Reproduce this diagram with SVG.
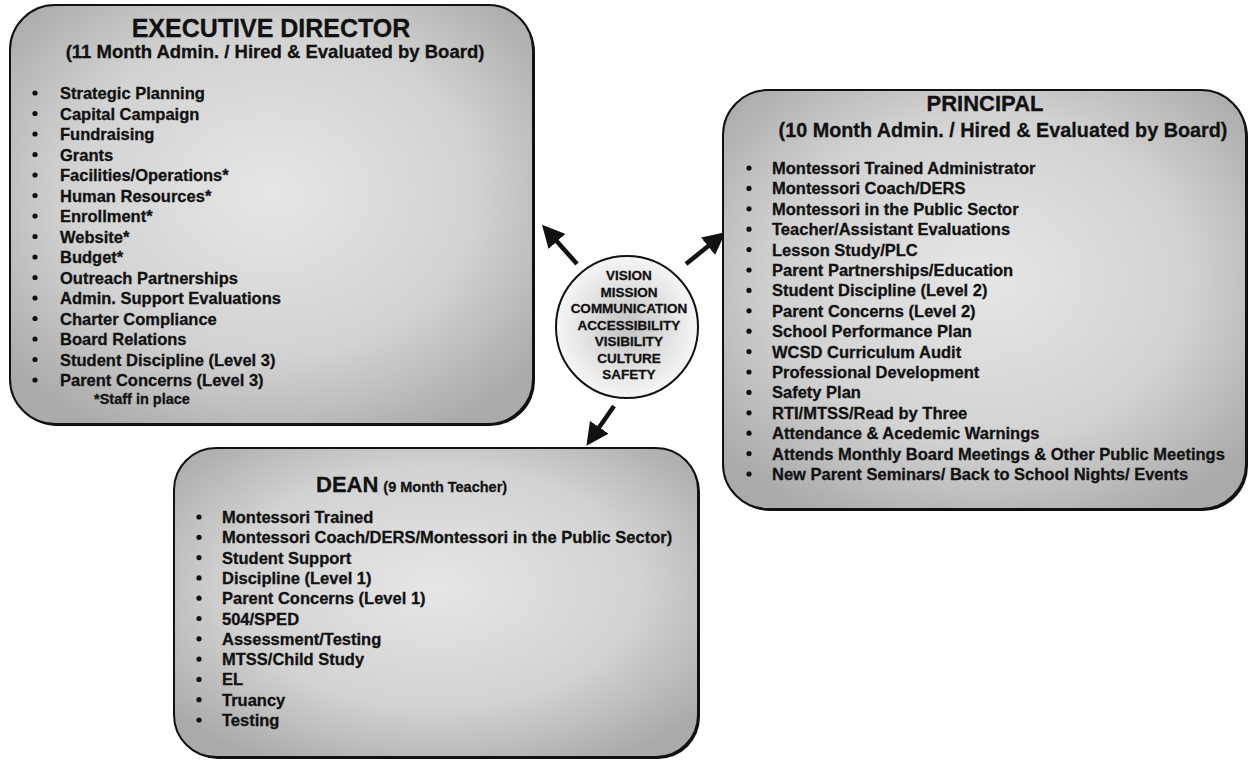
<svg xmlns="http://www.w3.org/2000/svg" width="1250" height="761" viewBox="0 0 1250 761">
<defs>
<radialGradient id="boxg" cx="50%" cy="45%" r="65%">
<stop offset="0%" stop-color="#e6e6e6"/>
<stop offset="60%" stop-color="#d2d2d2"/>
<stop offset="100%" stop-color="#aaaaaa"/>
</radialGradient>
<radialGradient id="circg" cx="50%" cy="50%" r="50%">
<stop offset="0%" stop-color="#c2c2c2"/>
<stop offset="100%" stop-color="#f6f6f6"/>
</radialGradient>
<marker id="ah" markerWidth="5" markerHeight="5" refX="4" refY="2.5" orient="auto" markerUnits="strokeWidth">
<path d="M0,0 L5,2.5 L0,5 Z" fill="#111"/>
</marker>
</defs>
<style>
.box{fill:url(#boxg);stroke:#111;stroke-width:2}
.sh{fill:#111}
text{font-family:"Liberation Sans",Arial,sans-serif;font-weight:bold;fill:#111;stroke:#111;stroke-width:0.3}
.t1{font-size:25px}
.t2{font-size:22px}
.sub{font-size:18.5px}
.it{font-size:16.5px}
.small{font-size:14.5px}
.ct{font-size:13.5px}
.dot{fill:#111}
.conn{stroke:#111;stroke-width:4.5;fill:none;marker-end:url(#ah)}
</style>
<rect width="1250" height="761" fill="#fff"/>

<g id="connectors">
<line class="conn" x1="577" y1="264" x2="545" y2="228"/>
<line class="conn" x1="686" y1="264" x2="722" y2="235"/>
<line class="conn" x1="614" y1="406" x2="589" y2="442"/>
</g>

<g id="executive-director">
<rect class="sh" x="12" y="7" width="523" height="419" rx="45"/>
<rect class="box" x="10" y="5" width="523" height="419" rx="45"/>
<text class="t1" x="271" y="37" text-anchor="middle">EXECUTIVE DIRECTOR</text>
<text class="sub" x="275" y="58" text-anchor="middle">(11 Month Admin. / Hired &amp; Evaluated by Board)</text>
<g class="dot">
<circle cx="35" cy="93" r="2.6"/><circle cx="35" cy="113.5" r="2.6"/><circle cx="35" cy="134" r="2.6"/><circle cx="35" cy="154.5" r="2.6"/><circle cx="35" cy="175" r="2.6"/><circle cx="35" cy="195.5" r="2.6"/><circle cx="35" cy="216" r="2.6"/><circle cx="35" cy="236.5" r="2.6"/><circle cx="35" cy="257" r="2.6"/><circle cx="35" cy="277.5" r="2.6"/><circle cx="35" cy="298" r="2.6"/><circle cx="35" cy="318.5" r="2.6"/><circle cx="35" cy="339" r="2.6"/><circle cx="35" cy="359.5" r="2.6"/><circle cx="35" cy="380" r="2.6"/>
</g>
<text class="it" x="60" y="99">Strategic Planning</text>
<text class="it" x="60" y="119.5">Capital Campaign</text>
<text class="it" x="60" y="140">Fundraising</text>
<text class="it" x="60" y="160.5">Grants</text>
<text class="it" x="60" y="181">Facilities/Operations*</text>
<text class="it" x="60" y="201.5">Human Resources*</text>
<text class="it" x="60" y="222">Enrollment*</text>
<text class="it" x="60" y="242.5">Website*</text>
<text class="it" x="60" y="263">Budget*</text>
<text class="it" x="60" y="283.5">Outreach Partnerships</text>
<text class="it" x="60" y="304">Admin. Support Evaluations</text>
<text class="it" x="60" y="324.5">Charter Compliance</text>
<text class="it" x="60" y="345">Board Relations</text>
<text class="it" x="60" y="365.5">Student Discipline (Level 3)</text>
<text class="it" x="60" y="386">Parent Concerns (Level 3)</text>
<text class="small" x="94" y="404">*Staff in place</text>
</g>

<g id="principal">
<rect class="sh" x="725" y="92" width="523" height="419" rx="45"/>
<rect class="box" x="723" y="90" width="523" height="419" rx="45"/>
<text class="t2" x="985" y="111" text-anchor="middle">PRINCIPAL</text>
<text class="sub" x="1003" y="137" text-anchor="middle" style="font-size:19.8px">(10 Month Admin. / Hired &amp; Evaluated by Board)</text>
<g class="dot">
<circle cx="749" cy="168" r="2.6"/><circle cx="749" cy="188.4" r="2.6"/><circle cx="749" cy="208.8" r="2.6"/><circle cx="749" cy="229.2" r="2.6"/><circle cx="749" cy="249.6" r="2.6"/><circle cx="749" cy="270" r="2.6"/><circle cx="749" cy="290.4" r="2.6"/><circle cx="749" cy="310.8" r="2.6"/><circle cx="749" cy="331.2" r="2.6"/><circle cx="749" cy="351.6" r="2.6"/><circle cx="749" cy="372" r="2.6"/><circle cx="749" cy="392.4" r="2.6"/><circle cx="749" cy="412.8" r="2.6"/><circle cx="749" cy="433.2" r="2.6"/><circle cx="749" cy="453.6" r="2.6"/><circle cx="749" cy="474" r="2.6"/>
</g>
<text class="it" x="772" y="174">Montessori Trained Administrator</text>
<text class="it" x="772" y="194.4">Montessori Coach/DERS</text>
<text class="it" x="772" y="214.8">Montessori in the Public Sector</text>
<text class="it" x="772" y="235.2">Teacher/Assistant Evaluations</text>
<text class="it" x="772" y="255.6">Lesson Study/PLC</text>
<text class="it" x="772" y="276">Parent Partnerships/Education</text>
<text class="it" x="772" y="296.4">Student Discipline (Level 2)</text>
<text class="it" x="772" y="316.8">Parent Concerns (Level 2)</text>
<text class="it" x="772" y="337.2">School Performance Plan</text>
<text class="it" x="772" y="357.6">WCSD Curriculum Audit</text>
<text class="it" x="772" y="378">Professional Development</text>
<text class="it" x="772" y="398.4">Safety Plan</text>
<text class="it" x="772" y="418.8">RTI/MTSS/Read by Three</text>
<text class="it" x="772" y="439.2">Attendance &amp; Acedemic Warnings</text>
<text class="it" x="772" y="459.6">Attends Monthly Board Meetings &amp; Other Public Meetings</text>
<text class="it" x="772" y="480">New Parent Seminars/ Back to School Nights/ Events</text>
</g>

<g id="dean">
<rect class="sh" x="176" y="450" width="524" height="309" rx="42"/>
<rect class="box" x="174" y="448" width="524" height="309" rx="42"/>
<text x="316" y="492"><tspan style="font-size:22px">DEAN</tspan><tspan style="font-size:14.5px" dx="5">(9 Month Teacher)</tspan></text>
<g class="dot">
<circle cx="199" cy="517" r="2.6"/><circle cx="199" cy="537.3" r="2.6"/><circle cx="199" cy="557.6" r="2.6"/><circle cx="199" cy="577.9" r="2.6"/><circle cx="199" cy="598.2" r="2.6"/><circle cx="199" cy="618.5" r="2.6"/><circle cx="199" cy="638.8" r="2.6"/><circle cx="199" cy="659.1" r="2.6"/><circle cx="199" cy="679.4" r="2.6"/><circle cx="199" cy="699.7" r="2.6"/><circle cx="199" cy="720" r="2.6"/>
</g>
<text class="it" x="222" y="523">Montessori Trained</text>
<text class="it" x="222" y="543.3">Montessori Coach/DERS/Montessori in the Public Sector)</text>
<text class="it" x="222" y="563.6">Student Support</text>
<text class="it" x="222" y="583.9">Discipline (Level 1)</text>
<text class="it" x="222" y="604.2">Parent Concerns (Level 1)</text>
<text class="it" x="222" y="624.5">504/SPED</text>
<text class="it" x="222" y="644.8">Assessment/Testing</text>
<text class="it" x="222" y="665.1">MTSS/Child Study</text>
<text class="it" x="222" y="685.4">EL</text>
<text class="it" x="222" y="705.7">Truancy</text>
<text class="it" x="222" y="726">Testing</text>
</g>

<g id="center-values">
<circle cx="627" cy="327" r="71" fill="url(#circg)" stroke="#111" stroke-width="2"/>
<text class="ct" x="629" y="280" text-anchor="middle">VISION</text>
<text class="ct" x="629" y="296.5" text-anchor="middle">MISSION</text>
<text class="ct" x="629" y="313" text-anchor="middle">COMMUNICATION</text>
<text class="ct" x="629" y="329.5" text-anchor="middle">ACCESSIBILITY</text>
<text class="ct" x="629" y="346" text-anchor="middle">VISIBILITY</text>
<text class="ct" x="629" y="362.5" text-anchor="middle">CULTURE</text>
<text class="ct" x="629" y="379" text-anchor="middle">SAFETY</text>
</g>
</svg>
